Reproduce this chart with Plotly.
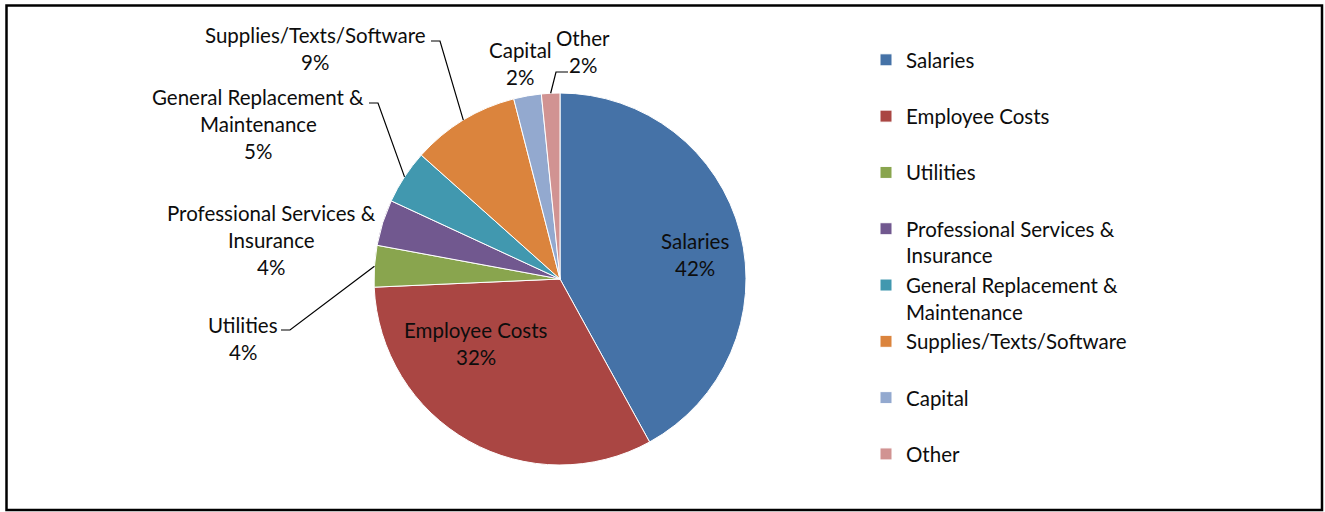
import math
import plotly.graph_objects as go

# ---- data ----
categories = ["Salaries", "Employee Costs", "Utilities", "Professional Services & Insurance",
              "General Replacement & Maintenance", "Supplies/Texts/Software", "Capital", "Other"]
values = [42.0, 32.3, 3.6, 4.0, 4.7, 9.4, 2.4, 1.6]
legend_labels = ["Salaries", "Employee Costs", "Utilities", "Professional Services &<br>Insurance",
                 "General Replacement &<br>Maintenance", "Supplies/Texts/Software", "Capital", "Other"]
slice_label_text = ["Salaries", "Employee Costs", "Utilities", "Professional Services &<br>Insurance",
                    "General Replacement &<br>Maintenance", "Supplies/Texts/Software", "Capital", "Other"]
colors = ["#4572A7", "#AA4643", "#89A54E", "#71588F", "#4198AF", "#DB843D", "#93A9CF", "#D19392"]

W, H = 1325, 512
CX, CY, R = 560.0, 279.0, 186.0  # pie centre / radius in px (layout)
FONT = "Lato, 'Open Sans', sans-serif"
TXT = "#0d0d0d"


def px(x):
    return x / W


def py(y):
    return 1 - y / H


total = sum(values)
pct = [round(v / total * 100) for v in values]

# legend entries padded to two lines so every slot has the same height
legend_names = [l if "<br>" in l else l + "<br>&nbsp;" for l in legend_labels]

fig = go.Figure()
fig.add_trace(go.Pie(
    labels=legend_names,
    values=values,
    customdata=categories,
    textinfo="none",
    sort=False,
    direction="clockwise",
    rotation=0,
    marker=dict(colors=colors, line=dict(color="white", width=1)),
    domain=dict(x=[px(CX - R), px(CX + R)], y=[py(CY + R), py(CY - R)]),
    hovertemplate="%{customdata}: %{percent}<extra></extra>",
))

# data labels (layout positions) and leader lines to slice mid-points
labels_pos = {
    # index: (label centre x, first-line centre y, leader start, elbow)
    0: (695, 241, None, None),
    1: (476, 330, None, None),
    5: (315, 35, (431, 41), (440, 41)),
    4: (258, 97, (369, 103), (378, 103)),
    3: (271, 213, None, None),
    2: (243, 325, (281, 330), (290, 330)),
    6: (520, 50, None, None),
    7: (583, 38, (568, 72), (556, 72)),
}

cum = 0.0
mids = []
for v in values:
    mids.append((cum + v / 2) / total * 2 * math.pi)
    cum += v

LINE_H = 27
for i, (lx, ly, start, elbow) in labels_pos.items():
    lines = slice_label_text[i].split("<br>") + [f"{pct[i]}%"]
    for k, t in enumerate(lines):
        fig.add_annotation(x=px(lx), y=py(ly + k * LINE_H), xref="paper", yref="paper",
                           text=t, showarrow=False, xanchor="center", yanchor="middle",
                           font=dict(family=FONT, size=20.5, color=TXT))
    if start is not None:
        ex = CX + R * math.sin(mids[i])
        ey = CY - R * math.cos(mids[i])
        path = (f"M {px(start[0])},{py(start[1])} L {px(elbow[0])},{py(elbow[1])} "
                f"L {px(ex)},{py(ey)}")
        fig.add_shape(type="path", path=path, xref="paper", yref="paper",
                      line=dict(color="black", width=1.2))

# chart frame
fig.add_shape(type="rect", xref="paper", yref="paper",
              x0=px(6.5), x1=px(1322), y0=py(510), y1=py(5.5),
              line=dict(color="black", width=2.5))

fig.update_layout(
    width=W, height=H,
    margin=dict(l=0, r=0, t=0, b=0),
    paper_bgcolor="white",
    plot_bgcolor="white",
    font=dict(family=FONT, size=20, color=TXT),
    showlegend=True,
    legend=dict(x=px(866), y=py(40), xanchor="left", yanchor="top",
                font=dict(family=FONT, size=20.5, color=TXT),
                valign="top", bgcolor="rgba(0,0,0,0)", tracegroupgap=0),
)

fig.write_html("out.html", config={"displayModeBar": False},
               post_script="document.body.style.margin='0';document.body.style.overflow='hidden';")
